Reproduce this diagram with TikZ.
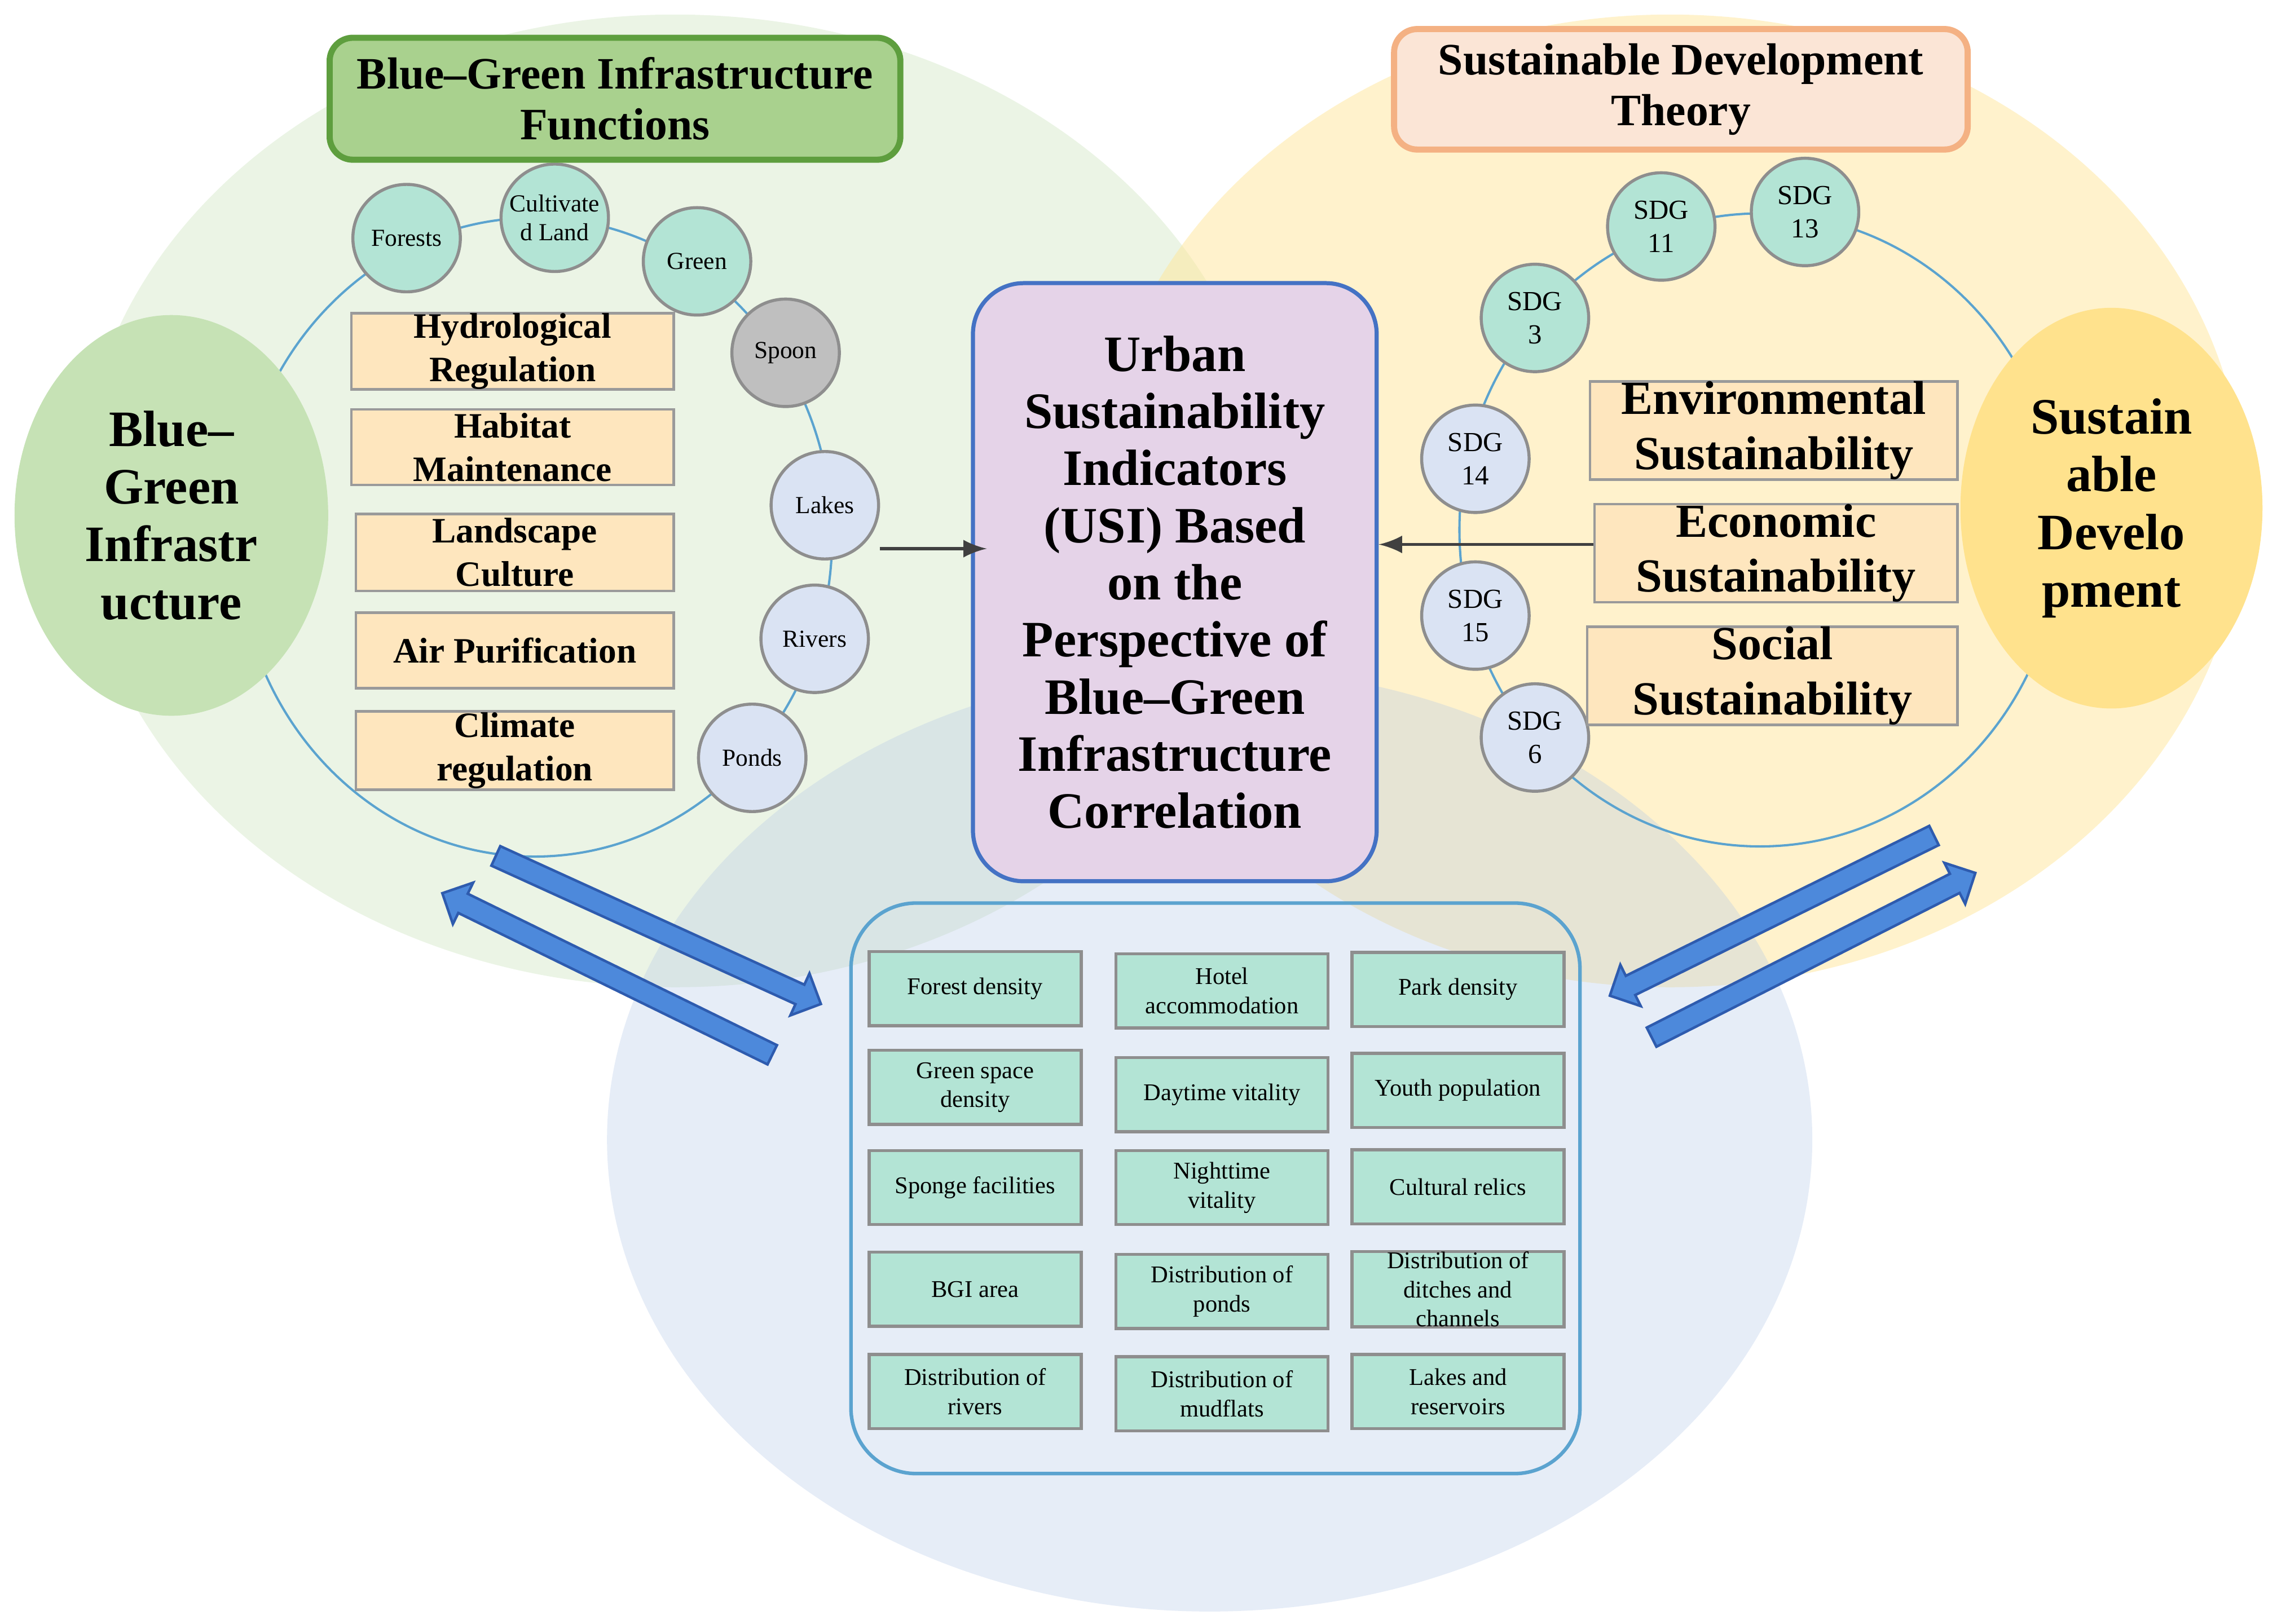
\documentclass[tikz,border=0pt]{standalone}
\usepackage{fontspec}
\setmainfont{Liberation Serif}
\usetikzlibrary{shapes.geometric,shapes.arrows}
\definecolor{bggreen}{HTML}{C5E0B4}
\definecolor{bgyellow}{HTML}{FFE699}
\definecolor{bgblue}{HTML}{B4C7E7}
\definecolor{hubgreen}{HTML}{C6E2B5}
\definecolor{hubyellow}{HTML}{FFE28D}
\definecolor{titlegreen}{HTML}{A9D18E}
\definecolor{titlegreenedge}{HTML}{5E9E3E}
\definecolor{titlepeach}{HTML}{FBE5D6}
\definecolor{titlepeachedge}{HTML}{F4B183}
\definecolor{lilac}{HTML}{E5D3E8}
\definecolor{usiedge}{HTML}{4472C4}
\definecolor{cream}{HTML}{FEE6BE}
\definecolor{boxedge}{HTML}{9A9A9A}
\definecolor{mint}{HTML}{B3E4D5}
\definecolor{paleblue}{HTML}{DAE3F3}
\definecolor{spoongray}{HTML}{BFBFBF}
\definecolor{spotedge}{HTML}{8E8E8E}
\definecolor{ringblue}{HTML}{5BA3CF}
\definecolor{arrowblue}{HTML}{4D89DB}
\definecolor{arrowedge}{HTML}{2E5BAE}
\definecolor{darkline}{HTML}{404040}
\tikzset{
  spot/.style={circle, draw=spotedge, line width=0.6pt, minimum size=7.4mm, inner sep=0pt, align=center, font=\fontsize{4.8}{5.6}\selectfont},
  sdg/.style={spot, font=\fontsize{5.4}{6.5}\selectfont},
  func/.style={draw=boxedge, fill=cream, line width=0.5pt, inner sep=0pt, align=center, font=\bfseries\fontsize{7}{8.5}\selectfont},
  pillar/.style={func, font=\bfseries\fontsize{9.3}{10.8}\selectfont},
  indic/.style={draw=spotedge, fill=mint, line width=0.6pt, minimum width=14.6mm, minimum height=5.1mm, inner sep=0pt, align=center, font=\fontsize{4.7}{5.7}\selectfont},
  hub/.style={ellipse, inner sep=0pt, align=center, font=\bfseries\fontsize{10}{11.3}\selectfont},
  title/.style={rounded corners=1.6mm, line width=1.2pt, inner sep=0pt, align=center, font=\bfseries\fontsize{8.8}{10}\selectfont},
  usi/.style={draw=usiedge, fill=lilac, line width=0.8pt, rounded corners=3.5mm, inner sep=0pt, align=center, font=\bfseries\fontsize{10}{11.2}\selectfont},
  panel/.style={draw=ringblue, line width=0.7pt, rounded corners=4.5mm, inner sep=0pt},
  ring/.style={draw=ringblue, line width=0.45pt},
  conn/.style={draw=darkline, line width=0.6pt, -latex},
  bigarrow/.style={single arrow, draw=arrowedge, fill=arrowblue, line width=0.5pt, inner xsep=0pt, inner ysep=0.65mm, single arrow head extend=0.85mm, single arrow tip angle=90, minimum width=0pt}
}
\begin{document}
\begin{tikzpicture}[x=0.1mm,y=-0.1mm]
	\useasboundingbox (0,0) rectangle (1568,1118.6);
	\fill[bggreen,fill opacity=0.35] (465,345) ellipse [x radius=410,y radius=335];
	\fill[bgyellow,fill opacity=0.5] (1150,345) ellipse [x radius=395,y radius=335];
	\fill[bgblue,fill opacity=0.33] (833,785) ellipse [x radius=415,y radius=325];
	\draw[ring] (368,370) ellipse [x radius=205,y radius=220];
	\draw[ring] (1212,365) ellipse [x radius=207,y radius=218];
	\node[spot,fill=mint] (forests) at (280,164) {Forests};
	\node[spot,fill=mint] (cultivated) at (382,150) {Cultivate\\d Land};
	\node[spot,fill=mint] (green) at (480,180) {Green};
	\node[spot,fill=spoongray] (spoon) at (541,243) {Spoon};
	\node[spot,fill=paleblue] (lakes) at (568,348) {Lakes};
	\node[spot,fill=paleblue] (rivers) at (561,440) {Rivers};
	\node[spot,fill=paleblue] (ponds) at (518,522) {Ponds};
	\node[func,minimum width=22.2mm,minimum height=5.2mm] (hydro) at (353,242) {Hydrological\\Regulation};
	\node[func,minimum width=22.2mm,minimum height=5.2mm] (habitat) at (353,308) {Habitat\\Maintenance};
	\node[func,minimum width=21.9mm,minimum height=5.3mm] (landscape) at (354.5,380.5) {Landscape\\Culture};
	\node[func,minimum width=21.9mm,minimum height=5.2mm] (air) at (354.5,448) {Air Purification};
	\node[func,minimum width=21.9mm,minimum height=5.4mm] (climate) at (354.5,517) {Climate\\regulation};
	\node[sdg,fill=mint] (sdg11) at (1144,156) {SDG\\11};
	\node[sdg,fill=mint] (sdg13) at (1243,146) {SDG\\13};
	\node[sdg,fill=mint] (sdg3) at (1057,219) {SDG\\3};
	\node[sdg,fill=paleblue] (sdg14) at (1016,316) {SDG\\14};
	\node[sdg,fill=paleblue] (sdg15) at (1016,424) {SDG\\15};
	\node[sdg,fill=paleblue] (sdg6) at (1057,508) {SDG\\6};
	\node[pillar,minimum width=25.3mm,minimum height=6.3mm] (env) at (1221.5,296.5) {Environmental\\Sustainability};
	\node[pillar,minimum width=25.0mm,minimum height=6.2mm] (econ) at (1223,381) {Economic\\Sustainability};
	\node[pillar,minimum width=25.5mm,minimum height=6.3mm] (social) at (1220.5,465.5) {Social\\Sustainability};
	\node[hub,fill=hubgreen,minimum width=21.6mm,minimum height=27.6mm] (bgi) at (118,355) {Blue--\\Green\\Infrastr\\ucture};
	\node[hub,fill=hubyellow,minimum width=20.8mm,minimum height=27.6mm] (sd) at (1454,350) {Sustain\\able\\Develo\\pment};
	\node[title,fill=titlegreen,draw=titlegreenedge,minimum width=39.3mm,minimum height=8.4mm] (bgifunc) at (423.5,68) {Blue--Green Infrastructure\\Functions};
	\node[title,fill=titlepeach,draw=titlepeachedge,minimum width=39.5mm,minimum height=8.3mm] (sdtheory) at (1157.5,61.5) {Sustainable Development\\Theory};
	\node[usi,minimum width=27.8mm,minimum height=41.2mm] (usi) at (809,401) {Urban\\Sustainability\\Indicators\\(USI) Based\\on the\\Perspective of\\Blue--Green\\Infrastructure\\Correlation};
	\draw[conn] ([xshift=1.1mm,yshift=-0.3mm]lakes.south east) -- ([xshift=1.1mm,yshift=-0.3mm]lakes.south east -| usi.west);
	\draw[conn] ([yshift=0.6mm]econ.west) -- ([yshift=0.6mm]econ.west -| usi.east);
	\node[panel,minimum width=50.2mm,minimum height=39.3mm] (panel) at (837,818.5) {};
	\node[indic] (forestd) at (671.5,681) {Forest density};
	\node[indic] (hotel) at (841.5,682.5) {Hotel\\accommodation};
	\node[indic] (park) at (1004,681.5) {Park density};
	\node[indic] (greensp) at (671.5,749) {Green space\\density};
	\node[indic] (daytime) at (841.5,754) {Daytime vitality};
	\node[indic] (youth) at (1004,751) {Youth population};
	\node[indic] (sponge) at (671.5,818) {Sponge facilities};
	\node[indic] (nighttime) at (841.5,818) {Nighttime\\vitality};
	\node[indic] (relics) at (1004,817.5) {Cultural relics};
	\node[indic] (bgiarea) at (671.5,888) {BGI area};
	\node[indic] (pondsd) at (841.5,889.5) {Distribution of\\ponds};
	\node[indic] (ditches) at (1004,888) {Distribution of\\ditches and\\channels};
	\node[indic] (riversd) at (671.5,958.5) {Distribution of\\rivers};
	\node[indic] (mudflats) at (841.5,960) {Distribution of\\mudflats};
	\node[indic] (lakesres) at (1004,958.5) {Lakes and\\reservoirs};
	\node[bigarrow,minimum height=24.6mm,rotate=-24.5] (toind) at (450,639) {};
	\node[bigarrow,minimum height=25.3mm,rotate=153.9] (tobgi) at (421.5,672.5) {};
	\node[bigarrow,minimum height=24.9mm,rotate=-153.7] (fromsd) at (1223.5,629) {};
	\node[bigarrow,minimum height=25.0mm,rotate=26.9] (tosd) at (1245.5,659.5) {};
\end{tikzpicture}
\end{document}
